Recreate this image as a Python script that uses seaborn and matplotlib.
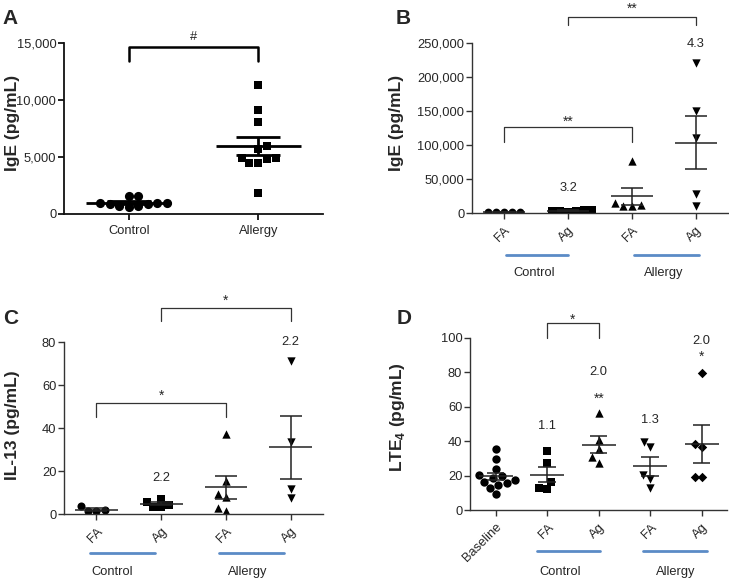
import numpy as np
import pandas as pd
import matplotlib
matplotlib.use('Agg')
import matplotlib.pyplot as plt
from matplotlib.ticker import StrMethodFormatter
import seaborn as sns

# ---- data ----
# A: total IgE
a_cats = ['Control', 'Allergy']
a_control = [1000, 1000, 1600, 700, 1550, 650, 900, 700, 900, 1000]
a_allergy = [11300, 9100, 8100, 6000, 5700, 4900, 4500, 4500, 4800, 4900, 1800]

# B: IgE, FA / Ag exposure
bcd_cats = ['Control FA', 'Control Ag', 'Allergy FA', 'Allergy Ag']
bcd_ticks = ['FA', 'Ag', 'FA', 'Ag']
b_ctrl_fa = [1500, 1800, 1400, 1600, 1500]
b_ctrl_ag = [3000, 5000, 4000, 5000, 2500, 3500]
b_all_fa = [76000, 15000, 11000, 12000, 10000]
b_all_ag = [220000, 150000, 110000, 28000, 10000]

# C: IL-13
c_ctrl_fa = [1.8, 3.6, 1.2, 1.6]
c_ctrl_ag = [4.0, 7.2, 3.5, 5.8, 3.5]
c_all_fa = [37.5, 15.5, 9.5, 8.0, 1.5, 3.0]
c_all_ag = [71.5, 33.5, 7.5, 11.5]

# D: LTE4
d_cats = ['Baseline', 'Control FA', 'Control Ag', 'Allergy FA', 'Allergy Ag']
d_ticks = ['Baseline', 'FA', 'Ag', 'FA', 'Ag']
d_base = [35.6, 29.4, 23.8, 20.5, 19.5, 18.5, 17.5, 16.5, 15.5, 14.5, 13.0, 9.3]
d_ctrl_fa = [34.2, 27.1, 16.1, 12.0, 12.8]
d_ctrl_ag = [56.4, 40.6, 35.2, 30.5, 27.4]
d_all_fa = [39.6, 36.3, 20.3, 17.8, 12.6]
d_all_ag = [79.6, 38.3, 36.7, 19.0, 19.0]

sns.set_style('ticks')
plt.rcParams['font.family'] = ['Liberation Sans', 'DejaVu Sans']
plt.rcParams['mathtext.fontset'] = 'custom'
plt.rcParams['mathtext.rm'] = 'Liberation Sans'
plt.rcParams['mathtext.bf'] = 'Liberation Sans:bold'

BLUE = '#5b8bc6'


def dot_panel(ax, cats, series, markers, sizes, lw, color):
    df = pd.DataFrame({'cat': np.repeat(cats, [len(s) for s in series]),
                       'val': np.concatenate([np.asarray(s, float) for s in series])})
    for c, m, sz in zip(cats, markers, sizes):
        sns.swarmplot(data=df[df['cat'] == c], x='cat', y='val', order=cats,
                      marker=m, color='black', size=sz, linewidth=0, ax=ax, zorder=2)
    # mean +/- SEM
    for i, s in enumerate(series):
        s = np.asarray(s, float)
        mean = s.mean()
        sem = s.std(ddof=1) / np.sqrt(len(s))
        ax.hlines(mean, i - 0.33, i + 0.33, color=color, lw=lw, zorder=3)
        ax.hlines([mean - sem, mean + sem], i - 0.17, i + 0.17, color=color, lw=lw, zorder=3)
        ax.vlines(i, mean - sem, mean + sem, color=color, lw=lw, zorder=3)
    ax.set_xlim(-0.5, len(cats) - 0.5)
    ax.set_xlabel('')


def style_axes(ax, lw, color):
    sns.despine(ax=ax)
    for sp in ['left', 'bottom']:
        ax.spines[sp].set_linewidth(lw)
        ax.spines[sp].set_color(color)
    ax.tick_params(length=4, width=lw, color=color, labelsize=9.3, pad=1.5)


def bracket(ax, x1, x2, y_bar, y_leg, lw, color):
    ax.plot([x1, x1, x2, x2], [y_leg, y_bar, y_bar, y_leg], color=color, lw=lw,
            clip_on=False, zorder=4)


def note(ax, x, y, s, fs=9.3):
    ax.text(x, y, s, ha='center', va='baseline', fontsize=fs, clip_on=False)


def rotate_ticks(ax, labels):
    ax.set_xticks(range(len(labels)))
    ax.set_xticklabels(labels, rotation=45, ha='right', rotation_mode='anchor')
    ax.tick_params(axis='x', pad=4)


def groups_below(ax, spans, labels, label_x, y_line, y_text):
    tr = ax.get_xaxis_transform()
    for (x1, x2), lab, lx in zip(spans, labels, label_x):
        ax.plot([x1, x2], [y_line, y_line], color=BLUE, lw=2, transform=tr, clip_on=False)
        ax.text(lx, y_text, lab, ha='center', va='center', fontsize=9.3, transform=tr)


fig = plt.figure(figsize=(7.29, 5.78), dpi=100)
axA = fig.add_axes([0.0878, 0.6298, 0.3553, 0.2958])
axB = fig.add_axes([0.6475, 0.6310, 0.3512, 0.2952])
axC = fig.add_axes([0.0878, 0.1107, 0.3553, 0.2971])
axD = fig.add_axes([0.6447, 0.1176, 0.3532, 0.2981])

# ---- A ----
dot_panel(axA, a_cats, [a_control, a_allergy], ['o', 's'], [6.6, 6.2], 2.0, 'black')
style_axes(axA, 1.3, '#111111')
axA.tick_params(axis='x', pad=4)
axA.set_ylim(0, 15000)
axA.set_yticks([0, 5000, 10000, 15000])
axA.yaxis.set_major_formatter(StrMethodFormatter('{x:,.0f}'))
axA.set_ylabel('IgE (pg/mL)', fontsize=12.5, fontweight='bold')
axA.yaxis.set_label_coords(-0.17, 0.53)
bracket(axA, 0, 1, 14650, 13450, 1.8, 'black')
note(axA, 0.5, 15300, '#')

# ---- B ----
dot_panel(axB, bcd_cats, [b_ctrl_fa, b_ctrl_ag, b_all_fa, b_all_ag],
          ['o', 's', '^', 'v'], [5.6, 5.4, 6.0, 6.0], 1.1, '#222222')
style_axes(axB, 1.0, '#333333')
axB.set_ylim(0, 250000)
axB.set_yticks(range(0, 250001, 50000))
axB.yaxis.set_major_formatter(StrMethodFormatter('{x:,.0f}'))
axB.set_ylabel('IgE (pg/mL)', fontsize=12.5, fontweight='bold')
axB.yaxis.set_label_coords(-0.265, 0.53)
rotate_ticks(axB, bcd_ticks)
bracket(axB, 1, 3, 288000, 276000, 0.9, '#333333')
note(axB, 2, 294000, '**', 10)
bracket(axB, 0, 2, 126500, 105000, 0.9, '#333333')
note(axB, 1, 128000, '**', 10)
note(axB, 1, 32700, '3.2')
note(axB, 3, 243000, '4.3')
groups_below(axB, [(0.03, 1.0), (2.03, 3.05)], ['Control', 'Allergy'], [0.47, 2.5], -0.244, -0.35)

# ---- C ----
dot_panel(axC, bcd_cats, [c_ctrl_fa, c_ctrl_ag, c_all_fa, c_all_ag],
          ['o', 's', '^', 'v'], [5.8, 5.6, 6.0, 6.0], 1.1, '#222222')
style_axes(axC, 1.0, '#333333')
axC.set_ylim(0, 80)
axC.set_yticks(range(0, 81, 20))
axC.set_ylabel('IL-13 (pg/mL)', fontsize=12.5, fontweight='bold')
axC.yaxis.set_label_coords(-0.17, 0.52)
rotate_ticks(axC, bcd_ticks)
bracket(axC, 1, 3, 95.8, 90.1, 0.9, '#333333')
note(axC, 2, 97.4, '*', 10)
bracket(axC, 0, 2, 51.6, 45.3, 0.9, '#333333')
note(axC, 1, 53.1, '*', 10)
note(axC, 1, 15.4, '2.2')
note(axC, 3, 78.7, '2.2')
groups_below(axC, [(-0.1, 0.9), (1.9, 2.9)], ['Control', 'Allergy'], [0.25, 2.33], -0.229, -0.338)

# ---- D ----
dot_panel(axD, d_cats, [d_base, d_ctrl_fa, d_ctrl_ag, d_all_fa, d_all_ag],
          ['o', 's', '^', 'v', 'D'], [6.0, 5.6, 6.0, 6.0, 4.8], 1.1, '#222222')
style_axes(axD, 1.0, '#333333')
axD.set_ylim(0, 100)
axD.set_yticks(range(0, 101, 20))
axD.set_ylabel(r'LTE$_\mathbf{4}$ (pg/mL)', fontsize=12.5, fontweight='bold')
axD.yaxis.set_label_coords(-0.245, 0.54)
rotate_ticks(axD, d_ticks)
bracket(axD, 1, 2, 108.4, 100, 0.9, '#333333')
note(axD, 1.5, 108.1, '*', 10)
note(axD, 1, 47.3, '1.1')
note(axD, 2, 78.6, '2.0')
note(axD, 2, 62.1, '**', 10)
note(axD, 3, 50.6, '1.3')
note(axD, 4, 96.6, '2.0')
note(axD, 4, 86.9, '*', 10)
groups_below(axD, [(0.8, 2.03), (2.86, 4.1)], ['Control', 'Allergy'], [1.25, 3.5], -0.238, -0.358)

# panel letters
for lab, x, y in [('A', 2, 19), ('B', 396, 19), ('C', 3, 319), ('D', 397, 319)]:
    fig.text(x / 729, 1 - y / 578, lab, fontsize=15, fontweight='bold', ha='left', va='center')

fig.savefig('out.png', dpi=100)
